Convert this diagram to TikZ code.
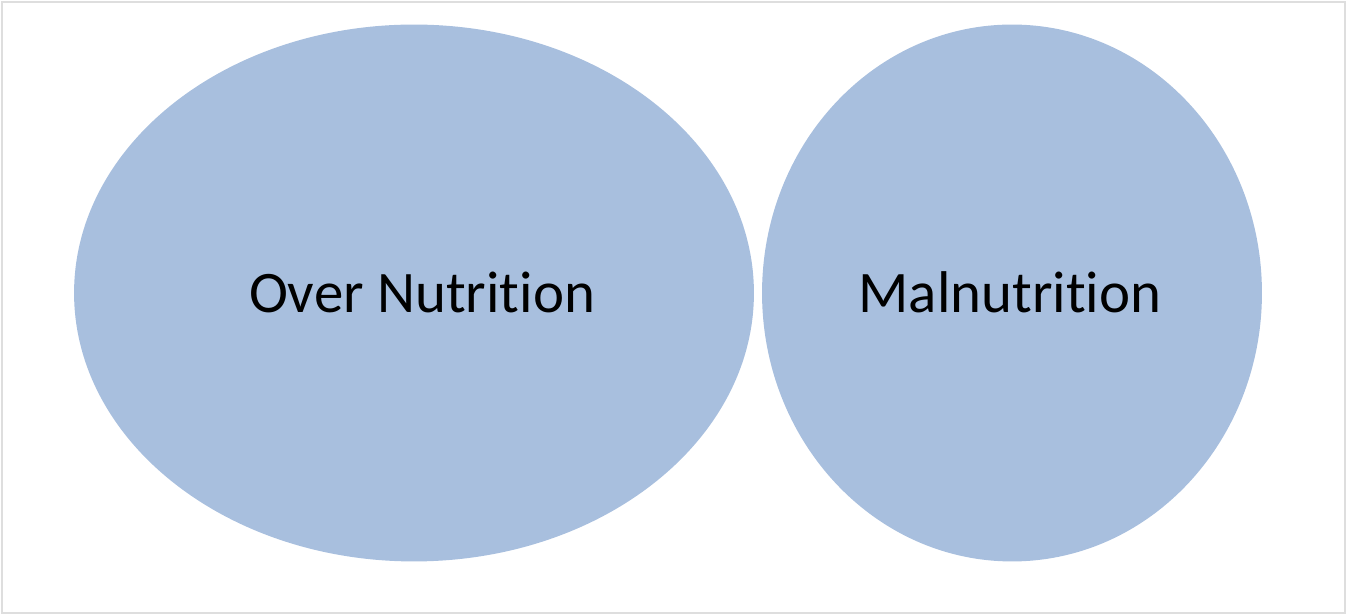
\documentclass[tikz,border=0pt]{standalone}
\usepackage{fontspec}
\setmainfont[Ligatures={NoCommon}]{Carlito}
\usetikzlibrary{shapes.geometric, positioning}
\definecolor{bubblefill}{RGB}{168,191,222}
\definecolor{framegray}{RGB}{222,222,222}
\definecolor{textdark}{RGB}{20,22,28}
\tikzstyle{bubble} = [
  ellipse, inner sep=0pt, draw=none, fill=bubblefill,
  text=textdark, text centered, align=center
]
\tikzstyle{bigbubble} = [bubble, minimum width=13.6cm, minimum height=10.74cm]
\tikzstyle{smallbubble} = [bubble, minimum width=10cm, minimum height=10.74cm]

\begin{document}
\begin{tikzpicture}[
  x=0.02cm, y=0.02cm,
  font=\fontsize{33.5}{40}\selectfont
]

% ------------------------------------------------
% MARCO
% ------------------------------------------------

\useasboundingbox (0,0) rectangle (1347,615);
\node[draw=framegray, line width=0.03cm, minimum width=26.86cm,
  minimum height=12.22cm, inner sep=0pt] (frame) at (673.5,307.5) {};

% ------------------------------------------------
% ELIPSES
% ------------------------------------------------

\node[bigbubble] (over) at (414,322) {};
\node (overtext) at (422,323) {Over Nutrition};

\node[smallbubble] (mal) at (1012,322) {};
\node (maltext) at (1010,323) {Malnutrition};

\end{tikzpicture}
\end{document}
